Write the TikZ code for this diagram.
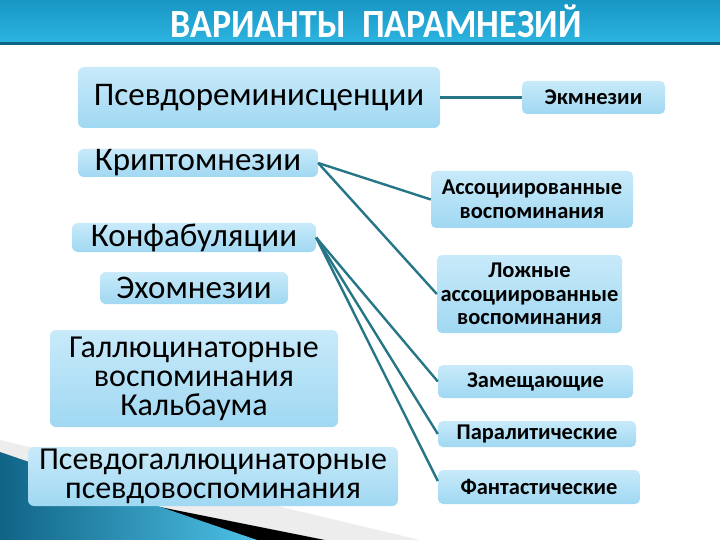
\documentclass[tikz,border=0pt]{standalone}
\usepackage{fontspec}
\setmainfont{Carlito}
\usetikzlibrary{positioning, calc}
\definecolor{paraTeal}{RGB}{38, 118, 136}
\definecolor{paraBoxTop}{RGB}{200, 234, 250}
\definecolor{paraBoxBot}{RGB}{160, 216, 242}
\definecolor{paraBarTop}{RGB}{24, 150, 196}
\definecolor{paraBarBot}{RGB}{46, 182, 226}
\definecolor{paraDeco}{RGB}{16, 100, 134}

\begin{document}
\begin{tikzpicture}[x=1pt, y=-1pt,
    lbox/.style={rectangle, rounded corners=6pt, top color=paraBoxTop, bottom color=paraBoxBot, draw=none, align=center, inner sep=0pt, font=\fontsize{32}{29}\selectfont},
    rbox/.style={rectangle, rounded corners=5pt, top color=paraBoxTop, bottom color=paraBoxBot, draw=none, align=center, inner sep=0pt, font=\fontsize{22.5}{23.5}\selectfont\bfseries},
    link/.style={line width=2.4pt, paraTeal}
  ]
    \useasboundingbox (0,0) rectangle (720,540);
    % title bar
    \shade[top color=paraBarTop, bottom color=paraBarBot] (0,0) rectangle (720,45);
    \fill[paraDeco] (0,42) rectangle (720,45);
    \node[text=white, font=\fontsize{40}{40}\selectfont\bfseries] (title) at (376,21) {\scalebox{0.9}[1]{ВАРИАНТЫ\ \ ПАРАМНЕЗИЙ}};

    % bottom corner decoration
    \fill[gray!14] (0,440) -- (420,540) -- (0,540) -- cycle;
    \fill[black] (0,475) -- (325,540) -- (0,540) -- cycle;
    \shade[left color=paraDeco, right color=paraBarBot!85] (0,452) -- (257,540) -- (0,540) -- cycle;

    % left column
    \node[lbox, minimum width=362, minimum height=61, font=\fontsize{33}{29}\selectfont] (pseudo) at (259,97.5) {Псевдореминисценции};
    \node[lbox, minimum width=240, minimum height=28, font=\fontsize{33}{29}\selectfont] (krypto) at (198,163) {Криптомнезии};
    \node[lbox, minimum width=244, minimum height=29, font=\fontsize{33}{29}\selectfont] (konfab) at (194,237.5) {Конфабуляции};
    \node[lbox, minimum width=188, minimum height=32, font=\fontsize{33}{29}\selectfont] (echo) at (194,288) {Эхомнезии};
    \node[lbox, minimum width=288, minimum height=97] (kahl) at (194,378.5) {Галлюцинаторные\\воспоминания\\Кальбаума};
    \node[lbox, minimum width=370, minimum height=59] (pgall) at (213,476.5) {Псевдогаллюцинаторные\\псевдовоспоминания};

    % right column
    \node[rbox, minimum width=143, minimum height=33] (ekm) at (593.5,97.5) {Экмнезии};
    \node[rbox, minimum width=202, minimum height=57] (assoc) at (532,199.5) {Ассоциированные\\воспоминания};
    \node[rbox, minimum width=185, minimum height=78] (false) at (529.5,294) {Ложные\\ассоциированные\\воспоминания};
    \node[rbox, minimum width=195, minimum height=33] (subst) at (535.5,381.5) {Замещающие};
    \node[rbox, minimum width=198, minimum height=26] (paral) at (537,434) {Паралитические};
    \node[rbox, minimum width=202, minimum height=34] (fant) at (539,487) {Фантастические};

    \draw[link] (pseudo) -- (ekm);
    \draw[link] (krypto.east) -- (assoc.west);
    \draw[link] (krypto.east) -- (false.west);
    \draw[link] (konfab.east) -- (subst.west);
    \draw[link] (konfab.east) -- (paral.west);
    \draw[link] (konfab.east) -- ([yshift=6pt]fant.west);
  \end{tikzpicture}
\end{document}
